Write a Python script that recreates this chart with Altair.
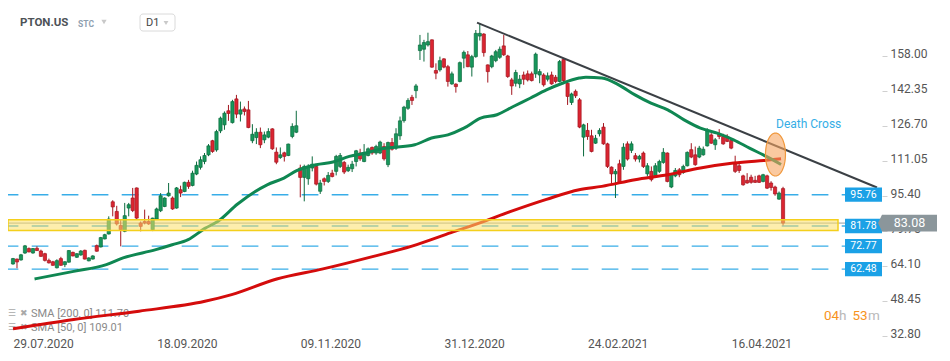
import altair as alt
import pandas as pd
import numpy as np

FONT = "Roboto"

# ---------------- data ----------------
opens = [64.8, 67.0, 66.6, 69.7, 71.7, 69.7, 71.8, 70.6, 69.4, 66.4,
         65.8, 63.1, 67.2, 64.5, 65.6, 70.0, 67.8, 68.8, 70.9, 66.2,
         67.0, 73.0, 72.4, 76.0, 78.2, 92.6, 88.3, 82.0, 79.4, 89.8,
         94.3, 98.8, 83.1, 83.8, 83.8, 80.1, 84.9, 88.6, 90.5, 95.3,
         94.3, 89.8, 98.0, 97.2, 101.3, 99.9, 105.0, 108.0, 110.6, 113.6,
         119.9, 115.8, 124.3, 127.0, 133.3, 128.0, 138.6, 131.8, 134.1, 133.7,
         119.9, 121.3, 123.7, 120.3, 121.5, 125.2, 114.8, 112.4, 114.5, 113.3,
         121.8, 123.7, 107.7, 103.5, 102.9, 107.7, 108.4, 97.3, 102.9, 101.7,
         105.4, 106.2, 108.4, 110.2, 106.5, 107.4, 110.6, 114.4, 110.6, 113.3,
         116.9, 114.4, 114.4, 117.3, 109.2, 119.1, 116.6, 122.1, 128.9, 134.4,
         139.3, 142.3, 160.2, 160.8, 162.7, 165.0, 151.3, 151.6, 156.5, 153.0,
         145.3, 145.2, 146.4, 156.8, 158.3, 152.8, 157.5, 166.7, 167.6, 153.8,
         153.0, 155.7, 157.2, 162.3, 157.8, 147.1, 145.6, 145.3, 149.3, 149.8,
         149.8, 149.8, 149.3, 149.3, 147.4, 149.3, 148.3, 146.4, 156.3, 145.6,
         137.0, 142.0, 138.2, 121.5, 124.5, 122.1, 118.8, 123.0, 126.0, 118.5,
         108.1, 105.1, 109.6, 108.4, 118.5, 115.6, 113.2, 111.7, 114.4, 105.1,
         106.2, 104.2, 106.2, 110.2, 114.4, 99.2, 104.2, 106.9, 105.7, 108.7,
         115.9, 113.6, 112.6, 113.6, 117.6, 122.5, 118.1, 122.8, 121.8, 121.8,
         120.0, 109.6, 108.7, 104.2, 102.2, 103.6, 102.2, 104.2, 101.7, 104.2,
         101.0, 99.2, 93.8, 98.5]
highs = [67.5, 67.2, 69.3, 73.3, 72.2, 71.9, 72.7, 71.2, 69.8, 67.2,
         66.2, 66.9, 68.0, 66.0, 71.0, 70.3, 69.6, 71.0, 71.2, 67.8,
         68.7, 73.5, 76.9, 78.3, 86.1, 93.3, 90.8, 84.9, 92.1, 92.1,
         98.8, 99.0, 83.8, 89.1, 86.4, 85.5, 90.0, 96.5, 94.6, 101.0,
         95.0, 99.2, 99.8, 101.6, 102.4, 106.5, 110.6, 112.9, 114.4, 118.4,
         120.3, 124.8, 130.7, 133.0, 135.9, 138.2, 140.4, 137.4, 135.2, 137.7,
         127.3, 125.5, 125.8, 124.0, 125.5, 125.5, 116.9, 116.9, 115.0, 118.6,
         127.7, 133.3, 109.2, 109.2, 109.4, 112.9, 109.2, 102.4, 103.5, 105.9,
         106.9, 113.6, 114.4, 110.9, 109.2, 110.9, 115.8, 116.3, 118.4, 116.9,
         117.3, 118.1, 119.9, 118.8, 119.5, 121.1, 125.5, 130.7, 135.5, 138.9,
         140.4, 145.3, 167.2, 165.0, 168.2, 165.2, 154.5, 157.5, 156.8, 153.8,
         150.8, 145.6, 155.3, 160.2, 160.0, 158.3, 169.4, 172.4, 168.0, 154.0,
         158.3, 160.5, 162.0, 167.2, 158.3, 148.0, 151.6, 149.3, 150.8, 151.3,
         150.8, 159.3, 151.9, 150.1, 150.4, 150.8, 149.3, 156.0, 156.8, 146.4,
         141.4, 142.8, 139.0, 127.5, 127.8, 124.8, 122.5, 125.5, 127.8, 119.0,
         108.4, 107.2, 111.4, 118.8, 119.6, 119.6, 114.4, 113.6, 115.1, 109.9,
         108.4, 109.9, 111.4, 116.6, 114.7, 105.1, 107.7, 107.7, 109.2, 115.1,
         118.8, 117.3, 117.6, 117.3, 125.5, 123.3, 121.1, 125.1, 123.0, 122.8,
         120.6, 113.2, 109.6, 104.7, 105.4, 104.7, 104.2, 104.7, 105.1, 104.7,
         101.8, 99.8, 97.2, 99.3]
lows = [64.5, 62.9, 66.3, 69.3, 70.0, 69.4, 70.6, 68.0, 65.9, 65.0,
        64.0, 62.8, 64.0, 63.4, 65.4, 68.2, 67.5, 68.5, 66.8, 66.0,
        66.8, 70.3, 72.2, 75.8, 78.0, 86.1, 82.0, 72.7, 79.0, 86.1,
        88.0, 84.5, 79.4, 82.5, 82.3, 79.5, 84.5, 88.0, 90.2, 94.9,
        89.0, 89.5, 94.7, 96.9, 98.4, 99.5, 104.5, 107.0, 109.4, 113.0,
        114.5, 115.0, 123.3, 124.8, 128.8, 127.6, 130.0, 128.5, 131.2, 125.5,
        118.8, 118.4, 116.6, 118.8, 121.0, 115.8, 109.4, 111.8, 110.6, 113.0,
        121.0, 123.3, 94.6, 92.8, 100.2, 106.2, 99.9, 96.1, 99.9, 101.0,
        103.5, 104.4, 107.7, 105.0, 105.9, 105.9, 108.4, 110.9, 110.3, 112.9,
        113.6, 113.6, 113.9, 111.0, 108.1, 115.5, 115.8, 120.3, 128.0, 133.7,
        135.9, 138.9, 156.0, 155.3, 162.0, 152.5, 147.4, 150.8, 152.3, 144.1,
        144.9, 141.4, 146.0, 152.3, 152.8, 148.6, 157.0, 164.7, 157.5, 145.9,
        152.3, 155.0, 156.5, 157.8, 148.0, 140.4, 144.1, 143.4, 144.9, 146.4,
        146.4, 148.0, 145.6, 144.1, 146.4, 144.9, 145.6, 146.0, 145.6, 135.9,
        135.9, 139.0, 125.5, 112.9, 120.3, 114.7, 118.5, 121.8, 118.1, 107.7,
        100.7, 94.3, 100.7, 106.9, 111.0, 114.4, 110.6, 110.2, 107.7, 103.9,
        101.7, 103.6, 105.5, 109.6, 101.3, 98.7, 103.6, 103.6, 105.1, 108.4,
        112.1, 108.7, 112.1, 113.2, 117.3, 118.5, 115.8, 120.6, 118.1, 119.3,
        116.1, 105.5, 105.5, 99.8, 100.7, 100.7, 101.0, 101.0, 101.3, 98.3,
        97.6, 95.3, 93.5, 82.0]
closes = [67.2, 65.7, 68.9, 72.9, 70.2, 71.7, 70.8, 68.2, 66.4, 65.3,
          64.2, 66.3, 64.2, 65.8, 70.8, 68.4, 69.4, 70.6, 67.0, 67.5,
          68.4, 70.5, 76.6, 77.9, 84.9, 90.3, 82.7, 80.1, 86.4, 91.3,
          88.7, 85.3, 81.6, 83.1, 82.7, 85.3, 89.4, 95.3, 94.3, 96.5,
          89.4, 98.8, 96.5, 101.3, 99.5, 105.4, 108.9, 111.4, 113.3, 117.6,
          115.1, 124.0, 130.0, 132.2, 132.1, 137.4, 131.8, 133.7, 133.0, 125.8,
          122.8, 123.7, 118.1, 122.5, 124.0, 116.3, 110.3, 113.6, 112.9, 118.4,
          126.3, 126.6, 103.5, 108.4, 108.0, 109.4, 100.5, 101.0, 101.7, 104.4,
          103.9, 112.9, 113.3, 105.9, 108.0, 109.4, 115.4, 111.8, 114.4, 116.3,
          114.4, 117.3, 119.3, 111.8, 119.1, 116.1, 123.0, 128.8, 134.9, 137.9,
          137.9, 144.4, 162.7, 163.8, 164.2, 152.8, 150.1, 155.7, 152.8, 146.4,
          149.8, 144.1, 154.8, 159.4, 153.0, 157.5, 167.9, 167.9, 159.3, 150.8,
          157.8, 159.7, 160.8, 158.3, 148.6, 144.4, 150.4, 147.4, 147.4, 147.1,
          146.8, 158.6, 150.8, 144.9, 148.9, 145.3, 146.4, 155.3, 146.8, 139.7,
          140.8, 140.0, 126.0, 127.0, 121.8, 115.1, 121.0, 124.5, 118.5, 108.4,
          105.1, 106.2, 101.0, 117.0, 111.7, 118.5, 111.7, 112.9, 108.4, 108.7,
          102.5, 108.7, 110.6, 114.7, 101.7, 104.7, 106.6, 104.7, 108.4, 114.7,
          112.6, 109.2, 116.6, 116.1, 124.5, 118.8, 120.3, 121.8, 118.5, 119.6,
          116.6, 106.2, 106.6, 100.2, 101.0, 101.3, 101.3, 101.3, 104.7, 98.7,
          99.0, 96.1, 96.5, 83.08]

sma50_idx = [5.4, 15.2, 23.4, 27.6, 35.8, 39.9, 43.9, 48.1, 51.3, 56.3,
             63.7, 67.9, 71.1, 76.0, 80.2, 84.3, 88.4, 92.5, 100.7, 104.9,
             109.0, 113.0, 117.2, 121.3, 125.4, 129.6, 133.7, 137.7, 141.9, 143.6,
             147.6, 151.8, 155.9, 159.9, 164.1, 168.2, 172.3, 176.5, 180.6, 184.6,
             188.8, 192.5]
sma50_val = [58.1, 61.5, 64.5, 67.5, 71.2, 73.4, 75.7, 80.7, 83.8, 91.6,
             100.2, 103.2, 106.5, 109.2, 110.4, 112.9, 114.4, 116.3, 118.1, 121.1,
             122.5, 125.5, 130.0, 131.5, 135.2, 138.9, 142.6, 145.6, 147.9, 148.3,
             147.9, 144.9, 140.4, 136.7, 133.7, 129.2, 125.5, 123.3, 120.3, 116.6,
             112.9, 109.3]

sma200_idx = [0.0, 15.2, 31.6, 48.1, 54.8, 66.1, 77.7, 90.1, 100.0, 109.8,
              117.2, 124.6, 133.7, 141.9, 147.6, 155.9, 164.1, 172.3, 180.6, 188.8,
              192.5]
sma200_val = [35.8, 40.0, 43.7, 48.1, 51.1, 58.1, 62.6, 68.1, 72.8, 78.8,
              83.3, 88.2, 93.7, 98.0, 99.5, 102.5, 104.7, 107.7, 109.9, 111.2,
              111.8]

trend_idx = [116.3, 216.55]
trend_val = [172.7, 99.0]

level_vals = [95.76, 81.78, 72.77, 62.48]
level_labels = ["95.76", "81.78", "72.77", "62.48"]

zone_top = 84.6
zone_bottom = 79.8
last_price = 83.08
last_label = "83.08"

cross_idx = 191.1
cross_val = 113.75

y_ticks = [158.00, 142.35, 126.70, 111.05, 95.40, 79.75, 64.10, 48.45, 32.80]
x_tick_idx = [0, 36, 72, 108, 144, 180]
x_tick_labels = ["29.07.2020", "18.09.2020", "09.11.2020", "31.12.2020", "24.02.2021", "16.04.2021"]

legend_lines = ["SMA [200,  0]  111.70", "SMA [50,  0]  109.01"]

# ---------------- chart ----------------
W, H = 874, 328
xs = alt.Scale(domain=[0, 216.55], nice=False, zero=False)
ys = alt.Scale(domain=[32.6, 179.24], nice=False, zero=False)

GREEN_FILL, GREEN_EDGE = "#17975b", "#0c6b3e"
RED_FILL, RED_EDGE = "#db2531", "#a3161f"
BLUE = "#38ade8"
BOXBLUE = "#1ba1e6"

df = pd.DataFrame({"i": list(range(len(opens))), "o": opens, "h": highs, "l": lows, "c": closes})
up = "datum.c >= datum.o"

x_expr = " : ".join(f"datum.value == {v} ? '{t}'" for v, t in zip(x_tick_idx, x_tick_labels)) + " : ''"

x_axis = alt.Axis(values=x_tick_idx, labelExpr=x_expr, labelAlign="left", ticks=False, tickSize=0,
                  domain=False, grid=False, labelPadding=2, labelFontSize=12, labelColor="#555",
                  labelFont=FONT, labelFlush=False, labelOverlap=False, title=None)
y_axis = alt.Axis(orient="right", values=y_ticks, format=".2f", tickSize=5, tickColor="#d0d0d0",
                  domain=False, grid=False, labelPadding=3, labelFontSize=12, labelColor="#555",
                  labelFont=FONT, labelOffset=-2, labelOverlap=False, title=None)


def X(f):
    return alt.X(f, type="quantitative", scale=xs, axis=x_axis, title=None)


def Y(f):
    return alt.Y(f, type="quantitative", scale=ys, axis=y_axis, title=None)


def label(text, x, y, size=12, color="#555", weight="normal", align="left"):
    return alt.Chart(pd.DataFrame({"t": [text]})).mark_text(
        align=align, baseline="middle", fontSize=size, color=color, fontWeight=weight, font=FONT
    ).encode(x=alt.value(x), y=alt.value(y), text="t:N")


lv = pd.DataFrame({"v": level_vals, "t": level_labels})

level_lines = alt.Chart(lv).mark_rule(color=BLUE, strokeWidth=1.4, strokeDash=[16.7, 13.3],
                                      strokeDashOffset=6.3).encode(
    y=Y("v"), x=alt.value(0), x2=alt.value(837))

price_line = alt.Chart(pd.DataFrame({"v": [last_price]})).mark_rule(color="#959ca0", strokeWidth=1).encode(
    y=Y("v"), x=alt.value(0), x2=alt.value(W))

wicks = alt.Chart(df).mark_rule(strokeWidth=1).encode(
    x=X("i"), y=Y("l"), y2="h:Q",
    color=alt.condition(up, alt.value(GREEN_EDGE), alt.value(RED_EDGE)),
)
bodies = alt.Chart(df).mark_bar(size=3.2, strokeWidth=0.7).encode(
    x=X("i"), y=Y("o"), y2="c:Q",
    fill=alt.condition(up, alt.value(GREEN_FILL), alt.value(RED_FILL)),
    stroke=alt.condition(up, alt.value(GREEN_EDGE), alt.value(RED_EDGE)),
)

sma200 = alt.Chart(pd.DataFrame({"i": sma200_idx, "v": sma200_val})).mark_line(
    color="#d40c0c", strokeWidth=3, interpolate="monotone").encode(x=X("i"), y=Y("v"))
sma50 = alt.Chart(pd.DataFrame({"i": sma50_idx, "v": sma50_val})).mark_line(
    color="#0f8752", strokeWidth=3, interpolate="monotone").encode(x=X("i"), y=Y("v"))

trend = alt.Chart(pd.DataFrame({"i": trend_idx, "v": trend_val})).mark_line(
    color="#3b4045", strokeWidth=2).encode(x=X("i"), y=Y("v"))

band = alt.Chart(pd.DataFrame({"top": [zone_top], "bot": [zone_bottom]})).mark_rect(
    fill="#fbe06a", fillOpacity=0.55, stroke="#f4cf1c", strokeWidth=1.5).encode(
    y=Y("top"), y2="bot:Q", x=alt.value(0), x2=alt.value(830))

RECT_PATH = "M-1,-0.386 L1,-0.386 L1,0.386 L-1,0.386 Z"
boxes = alt.Chart(lv).mark_point(shape=RECT_PATH, size=37 ** 2, filled=True, fill=BOXBLUE,
                                 opacity=1, strokeWidth=0).encode(y=Y("v"), x=alt.value(855.5))
box_text = alt.Chart(lv).mark_text(color="white", fontSize=10.5, font=FONT, baseline="middle").encode(
    y=Y("v"), x=alt.value(855.5), text="t:N")

ARROW_PATH = "M-1,0 L-0.864,-0.283 L1,-0.283 L1,0.283 L-0.864,0.283 Z"
lp = pd.DataFrame({"v": [last_price], "t": [last_label]})
last_box = alt.Chart(lp).mark_point(shape=ARROW_PATH, size=59 ** 2, filled=True, fill="#8b969b",
                                    opacity=1, strokeWidth=0).encode(y=Y("v"), x=alt.value(899.5))
last_text = alt.Chart(lp).mark_text(color="white", fontSize=12.5, font=FONT, baseline="middle").encode(
    y=Y("v"), x=alt.value(901.5), text="t:N")

theta = np.linspace(0, 2 * np.pi, 61)[:-1]
ELLIPSE = "M" + " L".join(f"{0.465 * np.cos(t):.3f},{np.sin(t):.3f}" for t in theta) + " Z"
ellipse = alt.Chart(pd.DataFrame({"i": [cross_idx], "v": [cross_val]})).mark_point(
    shape=ELLIPSE, size=43 ** 2, filled=True, fill="#f7a560", fillOpacity=0.6,
    stroke="#f0983c", strokeWidth=1.2, strokeOpacity=1, opacity=1).encode(x=X("i"), y=Y("v"))

death_text = label("Death Cross", 768, 116, size=12, color="#35aee6")

# header
header = [
    label("PTON.US", 12, 15, size=11.5, color="#4d5257", weight="bold"),
    label("STC", 70, 16, size=8.5, color="#8fa0b0", weight="bold"),
    alt.Chart(pd.DataFrame({"a": [0]})).mark_point(shape="triangle-down", filled=True, size=28,
                                                   color="#c9c9c9", opacity=1).encode(
        x=alt.value(96), y=alt.value(14)),
    alt.Chart(pd.DataFrame({"a": [0]})).mark_rect(fill="white", stroke="#dadada", strokeWidth=1,
                                                  cornerRadius=3).encode(
        x=alt.value(132), x2=alt.value(167), y=alt.value(6), y2=alt.value(23)),
    label("D1", 138, 15, size=11, color="#444"),
    alt.Chart(pd.DataFrame({"a": [0]})).mark_point(shape="triangle-down", filled=True, size=24,
                                                   color="#c9c9c9", opacity=1).encode(
        x=alt.value(158), y=alt.value(15)),
]

legend = [
    label("☰", 0, 305, size=9, color="#a9a9a9"),
    label("✖", 12, 305, size=9, color="#a9a9a9"),
    label(legend_lines[0], 23, 306, size=11, color="#8a8a8a"),
    label("☰", 0, 319, size=9, color="#a9a9a9"),
    label("✖", 12, 319, size=9, color="#a9a9a9"),
    label(legend_lines[1], 23, 320, size=11, color="#8a8a8a"),
]

timer = [
    label("04", 816, 308, size=13.5, color="#f7941d"),
    label("h", 831, 308, size=13.5, color="#b8b8b8"),
    label("53", 844.5, 308, size=13.5, color="#f7941d"),
    label("m", 860, 308, size=13.5, color="#b8b8b8"),
]

chart = alt.layer(
    level_lines, price_line, wicks, bodies, *legend, sma200, sma50, trend, band,
    boxes, box_text, last_box, last_text, ellipse, death_text, *header, *timer
).properties(
    width=W, height=H,
    autosize=alt.AutoSizeParams(type="none"),
    padding={"left": 0, "top": 0, "right": 60, "bottom": 17},
    background="white",
).configure_view(stroke=None)

chart.save("out.html", embed_options={"renderer": "svg", "actions": False})
